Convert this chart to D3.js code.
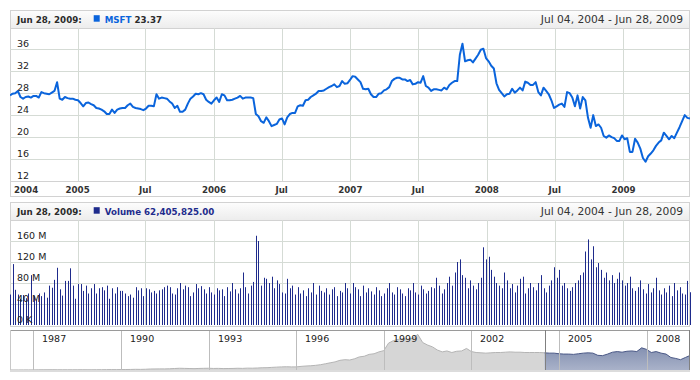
<!DOCTYPE html>
<html><head><meta charset="utf-8">
<script src="https://cdn.jsdelivr.net/npm/d3@7"></script>
<style>body{margin:0;background:#fff}svg{display:block}text{font-family:"DejaVu Sans",Verdana,sans-serif}</style>
</head><body><svg id="c" width="700" height="380"></svg>
<script>
// ---------- data ----------
const startDate = "2004-07-04"; // weekly closes
const price = [
27.6,27.9,28.0,28.4,27.3,27.0,27.3,27.4,27.2,27.5,
27.5,27.2,28.2,28.0,27.9,27.8,28.1,28.4,30.0,27.0,
26.8,27.3,27.1,27.0,27.0,26.8,26.7,26.2,25.6,26.2,
26.3,26.0,25.8,25.3,25.2,25.0,24.7,24.2,24.2,25.0,
24.4,25.0,25.2,25.3,25.3,25.8,26.1,25.5,25.3,25.2,
25.1,24.9,25.2,25.7,25.7,25.6,27.8,27.0,27.2,27.1,
27.0,26.5,26.1,25.3,25.7,24.6,24.6,25.0,26.1,27.0,
27.4,27.9,27.8,28.0,27.8,26.8,26.4,26.1,26.7,27.2,
26.4,27.8,27.6,26.7,26.7,26.8,27.0,27.2,27.5,27.0,
27.2,27.2,27.2,27.1,24.2,23.8,22.9,22.6,23.6,22.9,
22.0,22.2,22.4,23.2,23.4,22.3,23.6,24.2,24.4,24.4,
25.6,25.8,25.7,26.7,26.8,27.3,27.6,27.9,28.4,28.4,
28.5,28.8,29.1,29.3,29.6,29.1,29.3,30.2,29.7,29.8,
30.4,31.1,31.0,30.5,30.0,28.8,28.7,28.8,27.8,27.3,
27.3,27.9,28.0,28.5,28.7,29.1,30.2,30.6,30.8,30.8,
30.5,30.5,30.2,30.4,29.6,29.7,30.0,29.9,31.1,29.3,
29.0,28.4,28.7,28.7,28.6,28.5,29.0,28.7,29.5,29.9,
30.2,30.2,35.0,37.0,33.8,34.0,34.1,33.6,34.3,35.0,
35.9,36.1,34.4,33.8,33.0,32.5,29.8,28.6,28.0,27.4,
27.8,27.9,28.8,28.1,28.5,29.0,28.5,30.1,29.9,29.5,
29.5,30.0,28.2,27.6,29.0,28.4,27.8,26.7,25.3,25.6,
25.9,26.1,25.5,28.2,28.0,27.2,25.6,27.6,25.2,27.3,
26.7,23.5,21.7,24.0,22.0,22.3,21.7,20.2,19.9,20.3,
20.0,19.8,19.3,19.3,20.3,19.6,19.8,17.3,17.3,19.7,
19.0,17.9,16.2,15.5,16.5,17.0,17.6,18.4,19.0,19.4,
20.8,20.2,19.6,20.2,19.8,20.8,21.8,22.9,24.0,23.5,
23.37];
const volumeM = [
58,116,67,58,50,57,51,60,95,55,
48,60,55,62,52,75,71,86,109,68,
56,84,84,108,75,50,78,78,65,75,
60,70,78,60,70,72,66,75,50,70,
60,72,65,65,60,55,58,52,72,66,
70,55,70,68,62,65,60,66,68,72,
75,72,60,58,70,80,68,75,72,55,
62,78,70,74,68,60,72,62,58,70,
66,68,55,72,64,80,68,60,70,100,
72,60,75,82,170,160,75,90,88,80,
92,70,85,78,62,60,88,70,75,58,
72,60,66,55,70,62,80,58,75,65,
62,70,58,68,72,55,65,62,80,70,
60,80,72,68,55,75,62,70,64,58,
72,66,55,60,70,80,62,58,72,68,
60,55,70,66,80,62,58,75,68,60,
65,72,70,90,75,60,68,80,92,75,
100,120,125,95,90,70,85,75,68,80,
90,148,125,130,105,92,80,75,70,100,
85,70,78,62,75,88,92,60,70,80,
72,66,80,95,70,62,75,85,110,90,
105,75,80,70,65,72,80,85,95,100,
140,163,125,150,110,118,105,90,100,85,
95,80,88,100,85,75,80,92,70,65,
72,85,68,60,78,62,70,90,66,58,
70,62,75,55,80,66,72,60,58,84,
62.405825];
const xTickDates = ["2004-01-01","2005-01-01","2005-07-01","2006-01-01","2006-07-01","2007-01-01","2007-07-01","2008-01-01","2008-07-01","2009-01-01"];
const xTickLabels = ["2004","2005","Jul","2006","Jul","2007","Jul","2008","Jul","2009"];
const priceTicks = [12,16,20,24,28,32,36];
const volumeTicks = [0,40,80,120,160]; // millions
const navStart = "1986-03-01"; // bi-monthly closes
const navValues = [
0.1,0.1,0.1,0.15,0.15,
0.2,0.3,0.35,0.4,0.45,0.35,
0.4,0.4,0.4,0.4,0.45,0.4,
0.4,0.45,0.5,0.6,0.65,0.6,
0.7,0.8,0.9,1.1,1.0,1.2,
1.6,1.7,1.8,1.8,2.0,2.4,
2.8,2.6,2.4,2.2,2.5,2.7,
2.8,2.5,2.6,2.3,2.4,2.5,
2.8,2.6,3.0,2.9,3.2,3.6,
3.7,4.2,4.6,5.0,5.2,5.0,
5.0,5.8,6.4,6.8,7.5,8.5,
10.0,11.5,13.0,15.5,16.5,16.0,
18.0,21.0,22.0,25.0,26.0,29.0,
31.0,43.0,47.0,49.0,50.0,49.0,
51.0,57.0,44.0,40.0,37.0,32.0,
29.0,30.5,28.0,30.0,30.5,34.5,
29.5,28.0,27.5,27.0,27.5,28.0,
28.0,28.5,29.0,28.5,28.5,28.0,
28.0,28.0,28.0,27.5,27.0,27.0,
26.0,25.5,25.5,25.0,26.0,27.0,
27.5,27.0,23.5,23.0,25.5,28.5,
29.5,28.5,30.0,30.5,29.5,35.5,
33.0,28.0,29.5,27.0,25.5,20.0,
18.5,16.5,20.0,23.4];
const navTickDates = ["1987-01-01","1990-01-01","1993-01-01","1996-01-01","1999-01-01","2002-01-01","2005-01-01","2008-01-01"];
const navTickLabels = ["1987","1990","1993","1996","1999","2002","2005","2008"];
const navDomain = ["1986-03-13","2009-06-28"];
const headerDate = "Jun 28, 2009:";
const rangeText = "Jul 04, 2004 - Jun 28, 2009";
const seriesName = "MSFT", seriesValue = "23.37";
const volName = "Volume", volValue = "62,405,825.00";

// ---------- drawing ----------
const parse = d3.timeParse("%Y-%m-%d");
const svg = d3.select("#c");
const L = 10, R = 690;
const dates = price.map((_, i) => d3.timeDay.offset(parse(startDate), 7 * i));
const x = d3.scaleTime().domain([dates[0], dates[dates.length - 1]]).range([L, R]);

const defs = svg.append("defs");
const hg = defs.append("linearGradient").attr("id", "hg").attr("x1", 0).attr("y1", 0).attr("x2", 0).attr("y2", 1);
hg.append("stop").attr("offset", 0).attr("stop-color", "#fdfdfd");
hg.append("stop").attr("offset", 1).attr("stop-color", "#ececec");
const ng = defs.append("linearGradient").attr("id", "ng").attr("x1", 0).attr("y1", 0).attr("x2", 0).attr("y2", 1);
ng.append("stop").attr("offset", 0).attr("stop-color", "#6e7da3");
ng.append("stop").attr("offset", 1).attr("stop-color", "#a9b2c9");

const GRID = "#d5dbd5", BORDER = "#d2d2d2";
const xTicks = xTickDates.map(parse);

function panel(top, bottom, headerBottom) {
  svg.append("rect").attr("x", L + 0.5).attr("y", top + 0.5).attr("width", R - L - 1).attr("height", bottom - top - 1)
    .attr("fill", "#fff").attr("stroke", BORDER);
  svg.append("rect").attr("x", L + 0.5).attr("y", top + 0.5).attr("width", R - L - 1).attr("height", headerBottom - top)
    .attr("fill", "url(#hg)").attr("stroke", BORDER);
}
function header(top, color, nameColor, name, value, valColor) {
  const base = top + 12.7;
  const t = svg.append("text").attr("x", 17).attr("y", base).attr("font-size", 8.7).attr("font-weight", "bold")
    .attr("fill", "#2a2a2a").text(headerDate);
  const w = t.node().getComputedTextLength();
  const sx = 17 + w + 12;
  svg.append("rect").attr("x", sx).attr("y", base - 7.5).attr("width", 6).attr("height", 6.5).attr("fill", color);
  const t2 = svg.append("text").attr("x", sx + 11).attr("y", base).attr("font-size", 8.7).attr("font-weight", "bold");
  t2.append("tspan").attr("fill", nameColor).text(name);
  t2.append("tspan").attr("fill", valColor).text(" " + value);
  svg.append("text").attr("x", 683).attr("y", base).attr("font-size", 10.7).attr("text-anchor", "end")
    .attr("fill", "#333").text(rangeText);
}

// ---- price panel ----
const pTop = 28, pBot = 181;
panel(10, 197, 28);
const y = d3.scaleLinear().domain([12, 39.87]).range([pBot, pTop]);
const gp = svg.append("g");
priceTicks.filter(t => t > 12).forEach(t => {
  const yy = Math.round(y(t)) + 0.5;
  gp.append("line").attr("x1", L).attr("x2", R).attr("y1", yy).attr("y2", yy).attr("stroke", GRID);
});
xTicks.filter(d => d > x.domain()[0]).forEach(d => {
  const xx = Math.round(x(d)) + 0.5;
  gp.append("line").attr("x1", xx).attr("x2", xx).attr("y1", pTop).attr("y2", pBot).attr("stroke", GRID);
});
svg.append("line").attr("x1", L).attr("x2", R).attr("y1", pBot + 0.5).attr("y2", pBot + 0.5).attr("stroke", BORDER);
priceTicks.forEach(t => {
  svg.append("text").attr("x", 17).attr("y", y(t) - 2).attr("font-size", 9.5).attr("fill", "#222").text(t);
});
xTicks.forEach((d, i) => {
  const inside = d > x.domain()[0];
  svg.append("text").attr("x", inside ? x(d) : L + 4).attr("y", 192.5).attr("font-size", 8.7).attr("font-weight", "bold")
    .attr("text-anchor", inside ? "middle" : "start").attr("fill", "#333").text(xTickLabels[i]);
});
defs.append("clipPath").attr("id", "pc").append("rect").attr("x", L).attr("y", pTop).attr("width", R - L).attr("height", pBot - pTop);
svg.append("path").datum(price).attr("clip-path", "url(#pc)")
  .attr("d", d3.line().x((d, i) => x(dates[i])).y(d => y(d)))
  .attr("fill", "none").attr("stroke", "#0a64dc").attr("stroke-width", 2).attr("stroke-linejoin", "round");
header(10, "#0a64dc", "#0a64dc", seriesName, seriesValue, "#2a2a2a");

// ---- volume panel ----
const vTop = 220, vBot = 325;
panel(202, 327, 220);
const yv = d3.scaleLinear().domain([0, 200]).range([vBot, vTop]);
volumeTicks.filter(t => t > 0).forEach(t => {
  const yy = Math.round(yv(t)) + 0.5;
  svg.append("line").attr("x1", L).attr("x2", R).attr("y1", yy).attr("y2", yy).attr("stroke", GRID);
});
xTicks.filter(d => d > x.domain()[0]).forEach(d => {
  const xx = Math.round(x(d)) + 0.5;
  svg.append("line").attr("x1", xx).attr("x2", xx).attr("y1", vTop).attr("y2", vBot).attr("stroke", GRID);
});
svg.append("g").selectAll("line").data(volumeM).join("line")
  .attr("x1", (d, i) => Math.round(x(dates[i])) + 0.5).attr("x2", (d, i) => Math.round(x(dates[i])) + 0.5)
  .attr("y1", yv(0)).attr("y2", d => yv(d)).attr("stroke", "#1e2b8c").attr("stroke-width", 1);
volumeTicks.forEach(t => {
  svg.append("text").attr("x", 17).attr("y", yv(t) - 2).attr("font-size", 9.5).attr("fill", "#222")
    .text(t === 0 ? "0 K" : t + " M");
});
header(202, "#1e2b8c", "#1e2b8c", volName, volValue, "#1e2b8c");

// ---- navigator ----
const nTop = 330, nBot = 370;
const nx = d3.scaleTime().domain(navDomain.map(parse)).range([L, R]);
const ny = d3.scaleLinear().domain([0, 64]).range([nBot, nTop]);
const navDates = navValues.map((_, i) => d3.timeMonth.offset(parse(navStart), 2 * i));
svg.append("rect").attr("x", L).attr("y", nTop).attr("width", R - L).attr("height", nBot - nTop).attr("fill", "#fff");
const selX0 = nx(dates[0]);
defs.append("clipPath").attr("id", "nl").append("rect").attr("x", L).attr("y", nTop).attr("width", selX0 - L).attr("height", nBot - nTop);
defs.append("clipPath").attr("id", "nr").append("rect").attr("x", selX0).attr("y", nTop).attr("width", R - selX0).attr("height", nBot - nTop);
const area = d3.area().x((d, i) => nx(navDates[i])).y0(nBot).y1(d => ny(d));
const lineN = d3.line().x((d, i) => nx(navDates[i])).y(d => ny(d));
svg.append("path").datum(navValues).attr("clip-path", "url(#nl)").attr("d", area).attr("fill", "#d6d6d6");
svg.append("path").datum(navValues).attr("clip-path", "url(#nl)").attr("d", lineN).attr("fill", "none").attr("stroke", "#b4b4b4");
svg.append("path").datum(navValues).attr("clip-path", "url(#nr)").attr("d", area).attr("fill", "url(#ng)");
svg.append("path").datum(navValues).attr("clip-path", "url(#nr)").attr("d", lineN).attr("fill", "none").attr("stroke", "#4a5886");
navTickDates.map(parse).forEach((d, i) => {
  const xx = Math.round(nx(d)) + 0.5;
  svg.append("line").attr("x1", xx).attr("x2", xx).attr("y1", nTop).attr("y2", nBot).attr("stroke", "#bdbdbd");
  svg.append("text").attr("x", xx + 8.5).attr("y", nTop + 12).attr("font-size", 9.5).attr("fill", "#222").text(navTickLabels[i]);
});
svg.append("line").attr("x1", L).attr("x2", R).attr("y1", nTop + 0.5).attr("y2", nTop + 0.5).attr("stroke", "#9a9a9a");
svg.append("line").attr("x1", L + 0.5).attr("x2", L + 0.5).attr("y1", nTop).attr("y2", nBot).attr("stroke", "#c8c8c8");
svg.append("line").attr("x1", Math.round(selX0) + 0.5).attr("x2", Math.round(selX0) + 0.5).attr("y1", nTop).attr("y2", nBot).attr("stroke", "#808080");
svg.append("line").attr("x1", R - 0.5).attr("x2", R - 0.5).attr("y1", nTop).attr("y2", nBot).attr("stroke", "#808080");
svg.append("rect").attr("x", L).attr("y", nBot).attr("width", R - L).attr("height", 2).attr("fill", "#dcdcdc");
</script></body></html>
